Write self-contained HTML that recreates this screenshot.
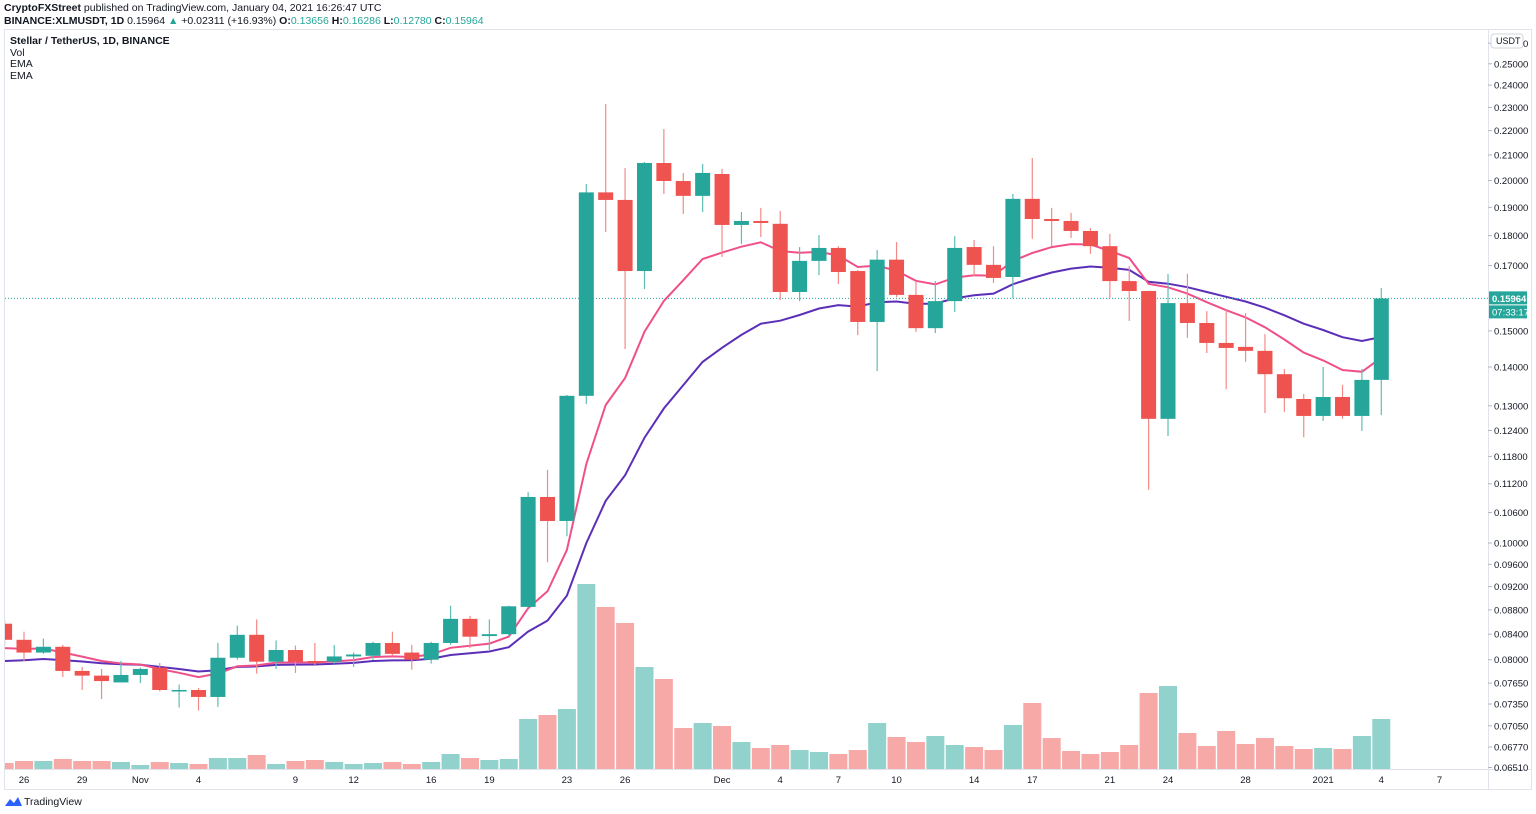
<!DOCTYPE html>
<html><head><meta charset="utf-8"><style>
html,body{margin:0;padding:0;background:#fff;width:1536px;height:814px;overflow:hidden}
svg{display:block;font-family:"Liberation Sans","DejaVu Sans",sans-serif}
</style></head><body>
<svg id="chart" width="1536" height="814" viewBox="0 0 1536 814">
<defs><clipPath id="pane"><rect x="5" y="30" width="1483" height="739"/></clipPath></defs>
<text x="4" y="11" font-size="10.5" fill="#131722"><tspan font-weight="bold">CryptoFXStreet</tspan> published on TradingView.com, January 04, 2021 16:26:47 UTC</text>
<text x="4" y="24" font-size="10.5" fill="#131722"><tspan font-weight="bold">BINANCE:XLMUSDT, 1D</tspan> 0.15964 <tspan fill="#26a69a">▲</tspan> +0.02311 (+16.93%) <tspan font-weight="bold">O:</tspan><tspan fill="#26a69a">0.13656</tspan> <tspan font-weight="bold">H:</tspan><tspan fill="#26a69a">0.16286</tspan> <tspan font-weight="bold">L:</tspan><tspan fill="#26a69a">0.12780</tspan> <tspan font-weight="bold">C:</tspan><tspan fill="#26a69a">0.15964</tspan></text>
<rect x="4.5" y="29.5" width="1527" height="760" fill="none" stroke="#e0e3eb"/>
<line x1="1488.5" y1="30" x2="1488.5" y2="789" stroke="#e0e3eb"/>
<line x1="5" y1="769.5" x2="1531" y2="769.5" stroke="#e0e3eb"/>
<text x="10" y="44" font-size="10.5" font-weight="bold" fill="#131722">Stellar / TetherUS, 1D, BINANCE</text>
<text x="10" y="56" font-size="10.5" fill="#131722">Vol</text>
<text x="10" y="67" font-size="10.5" fill="#131722">EMA</text>
<text x="10" y="79" font-size="10.5" fill="#131722">EMA</text>
<g clip-path="url(#pane)"><g id="vol"></g><g id="ema"></g><g id="candles"></g></g><g id="yaxis"></g><g id="xaxis"></g>
<g>
<path d="M5 806 L10 799 L14 803 L18 797 L22 806 Z" fill="#2962ff"/>
<text x="24" y="805" font-size="10.5" fill="#131722">TradingView</text>
</g>
</svg>
<script>
const dates = ["Oct 25","Oct 26","Oct 27","Oct 28","Oct 29","Oct 30","Oct 31","Nov 1","Nov 2","Nov 3","Nov 4","Nov 5","Nov 6","Nov 7","Nov 8","Nov 9","Nov 10","Nov 11","Nov 12","Nov 13","Nov 14","Nov 15","Nov 16","Nov 17","Nov 18","Nov 19","Nov 20","Nov 21","Nov 22","Nov 23","Nov 24","Nov 25","Nov 26","Nov 27","Nov 28","Nov 29","Nov 30","Dec 1","Dec 2","Dec 3","Dec 4","Dec 5","Dec 6","Dec 7","Dec 8","Dec 9","Dec 10","Dec 11","Dec 12","Dec 13","Dec 14","Dec 15","Dec 16","Dec 17","Dec 18","Dec 19","Dec 20","Dec 21","Dec 22","Dec 23","Dec 24","Dec 25","Dec 26","Dec 27","Dec 28","Dec 29","Dec 30","Dec 31","Jan 1","Jan 2","Jan 3","Jan 4"];
const opens = [.0857,.0831,.0811,.0820,.0783,.0776,.0766,.0777,.0788,.0755,.0755,.0745,.0803,.0839,.0797,.0815,.0798,.0797,.0805,.0806,.0826,.0811,.0800,.0826,.0865,.0837,.0840,.0885,.1092,.1043,.1325,.1955,.1927,.1682,.2068,.1998,.1942,.2025,.1837,.1851,.1841,.1616,.1715,.1758,.1682,.1526,.1719,.1607,.1508,.1588,.1761,.1702,.1663,.1931,.1858,.1851,.1816,.1764,.1650,.1619,.1268,.1582,.1523,.1466,.1455,.1444,.1381,.1317,.1275,.1322,.1275,.1366];
const highs = [.0862,.0844,.0833,.0823,.0789,.0786,.0798,.0788,.0795,.0763,.0758,.0826,.0854,.0864,.0830,.0822,.0826,.0823,.0811,.0828,.0844,.0823,.0828,.0887,.0870,.0864,.0887,.1102,.1150,.1327,.1987,.2315,.2048,.2072,.2207,.2029,.2064,.2045,.1883,.1898,.1887,.1761,.1802,.1764,.1685,.1751,.1778,.1647,.1650,.1798,.1785,.1764,.1949,.2088,.1898,.1880,.1826,.1806,.1698,.1619,.1673,.1673,.1558,.1561,.1552,.1491,.1395,.1330,.1400,.1353,.1395,.1628];
const lows = [.0822,.0798,.0809,.0774,.0755,.0742,.0766,.0765,.0753,.0730,.0726,.0731,.0800,.0779,.0786,.0780,.0792,.0794,.0789,.0800,.0805,.0785,.0794,.0823,.0818,.0815,.0837,.0884,.0964,.1013,.1304,.1812,.1449,.1625,.1949,.1876,.1883,.1728,.1771,.1795,.1591,.1588,.1669,.1641,.1488,.1389,.1600,.1497,.1494,.1555,.1666,.1644,.1597,.1789,.1764,.1792,.1738,.1597,.1529,.1107,.1227,.1480,.1438,.1342,.1414,.1282,.1285,.1224,.1263,.1268,.1239,.1277];
const closes = [.0831,.0811,.0820,.0783,.0776,.0768,.0777,.0786,.0755,.0755,.0745,.0803,.0839,.0797,.0815,.0797,.0795,.0805,.0808,.0826,.0809,.0800,.0826,.0865,.0836,.0840,.0886,.1092,.1043,.1325,.1955,.1927,.1682,.2068,.1998,.1942,.2029,.1837,.1851,.1844,.1616,.1715,.1758,.1679,.1526,.1719,.1607,.1508,.1588,.1758,.1702,.1660,.1931,.1858,.1851,.1816,.1764,.1650,.1619,.1268,.1582,.1523,.1466,.1452,.1444,.1381,.1319,.1275,.1322,.1275,.1366,.1596];
const volumes = [12,16,16,20,16,16,14,8,14,12,10,22,22,28,10,16,18,14,10,12,14,10,14,30,22,18,20,100,108,120,370,324,292,204,180,82,92,86,54,42,48,38,34,30,38,92,64,54,66,48,44,38,88,132,62,36,30,34,48,152,166,72,46,76,50,62,46,40,42,40,66,100];
const emaFastSeed = 0.0818, emaSlowSeed = 0.0798;
const emaFastPeriod = 10, emaSlowPeriod = 21;
const priceTicks = [0.26,0.25,0.24,0.23,0.22,0.21,0.20,0.19,0.18,0.17,0.15,0.14,0.13,0.124,0.118,0.112,0.106,0.10,0.096,0.092,0.088,0.084,0.080,0.0765,0.0735,0.0705,0.0677,0.0651];
const timeLabels = ["26","29","Nov","4","9","12","16","19","23","26","Dec","4","7","10","14","17","21","24","28","2021","4","7"];
const timeLabelIdx = [1,4,7,10,15,18,22,25,29,32,37,40,43,46,50,53,57,60,64,68,71,74];
const lastPrice = 0.15964;

const NS="http://www.w3.org/2000/svg";
function X(i){return 24+(i-1)*19.39;}
function Y(p){return 543-Math.log(p/0.1)*523;}
const volMax=370;
function VY(v){return 769-v/volMax*185;}
function mk(tag,attrs,parent){const e=document.createElementNS(NS,tag);for(const k in attrs)e.setAttribute(k,attrs[k]);parent.appendChild(e);return e;}
const G='#26a69a',R='#ef5350';
const volG=document.getElementById('vol'),cG=document.getElementById('candles'),eG=document.getElementById('ema'),yG=document.getElementById('yaxis'),xG=document.getElementById('xaxis');
for(let i=0;i<dates.length;i++){
  const up=closes[i]>=opens[i];
  const x=X(i);
  const vb=mk('rect',{x:x-9,y:VY(volumes[i]),width:18,height:769-VY(volumes[i]),fill:up?'#92d2cc':'#f7a9a7'},volG);
  
  
  const g=mk('g',{},cG);
  
  
  const col=up?G:R;
  mk('line',{x1:x,x2:x,y1:Y(highs[i]),y2:Y(lows[i]),stroke:up?'#5fbdb3':'#f28b88','stroke-width':1.2},g);
  const top=Y(Math.max(opens[i],closes[i])),bot=Y(Math.min(opens[i],closes[i]));
  mk('rect',{x:x-7.5,y:top,width:15,height:Math.max(1.5,bot-top),fill:col},g);
}
function ema(seed,n){const k=2/(n+1);let v=seed;const out=[];for(let i=0;i<closes.length;i++){if(i>0)v=v+k*(closes[i]-v);out.push(v);}return out;}
function line(vals,color,name){
  let d='';vals.forEach((v,i)=>{d+=(i?'L':'M')+X(i).toFixed(1)+' '+Y(v).toFixed(1);});
  const p=mk('path',{d:d,fill:'none',stroke:color,'stroke-width':2},eG);
  
  
}
line(ema(emaSlowSeed,emaSlowPeriod),'#5b2fb8','ema-slow-line');
line(ema(emaFastSeed,emaFastPeriod),'#f0508a','ema-fast-line');
const ly=Y(lastPrice);
const ll=mk('line',{x1:5,x2:1488,y1:ly,y2:ly,stroke:'#26a69a','stroke-dasharray':'1 2','stroke-width':1},eG);


priceTicks.forEach(p=>{
  const y=Y(p);
  if(y<38)return;
  mk('line',{x1:1488,x2:1492,y1:y,y2:y,stroke:'#b2b5be'},yG);
  const t=mk('text',{x:1494,y:y+3.5,'font-size':9.5,fill:'#131722'},yG);
  t.textContent=p.toFixed(5);
  
  
});
const ub=mk('rect',{x:1491,y:34,width:32,height:14,rx:3,fill:'#fff',stroke:'#d1d4dc'},yG);


const ut=mk('text',{x:1496,y:44,'font-size':9,fill:'#131722'},yG);ut.textContent='USDT';
const pb=mk('rect',{x:1489,y:ly-7,width:38,height:13,fill:'#26a69a'},yG);


const pt=mk('text',{x:1492,y:ly+3.5,'font-size':9.5,'font-weight':'bold',fill:'#fff'},yG);pt.textContent=lastPrice.toFixed(5);
const cb=mk('rect',{x:1489,y:ly+7,width:38,height:13,fill:'#26a69a'},yG);


const ct=mk('text',{x:1492,y:ly+17,'font-size':9.5,fill:'#fff'},yG);ct.textContent='07:33:17';
timeLabels.forEach((s,k)=>{
  const t=mk('text',{x:X(timeLabelIdx[k]),y:783,'font-size':9.5,fill:'#131722','text-anchor':'middle'},xG);
  t.textContent=s;
  
  
});
</script>
</body></html>
